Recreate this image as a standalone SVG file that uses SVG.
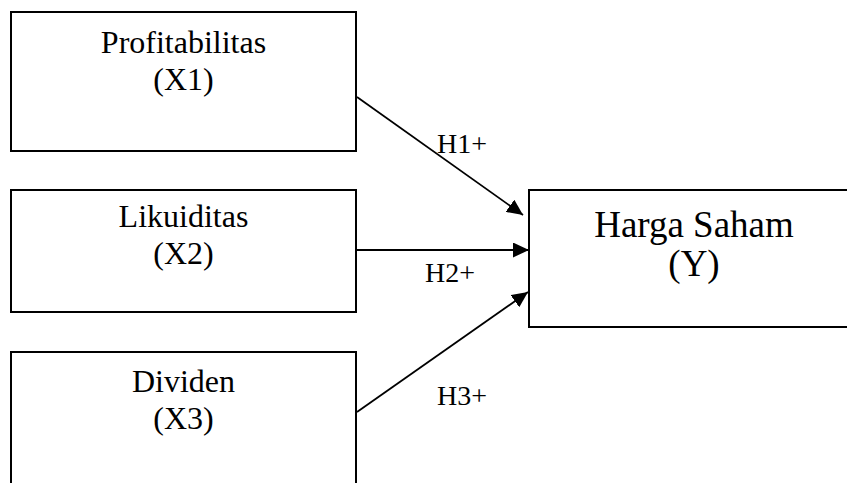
<svg xmlns="http://www.w3.org/2000/svg" width="847" height="483" viewBox="0 0 847 483">
<style>
.box{fill:#fff;stroke:#000;stroke-width:2}
.t{font-family:"Liberation Serif","Times New Roman",serif;font-size:32px;text-anchor:middle;fill:#000}
.ty{font-family:"Liberation Serif","Times New Roman",serif;font-size:37px;text-anchor:middle;fill:#000}
.h{font-family:"Liberation Serif","Times New Roman",serif;font-size:28px;fill:#000}
.c{stroke:#000;stroke-width:1.8;fill:none;marker-end:url(#ah)}
</style>
<defs>
<marker id="ah" markerWidth="17" markerHeight="15" refX="16" refY="7.5" orient="auto" markerUnits="userSpaceOnUse">
<path d="M0,0 L16,7.5 L0,15 Z" fill="#000"/>
</marker>
</defs>
<rect width="847" height="483" fill="#fff"/>
<g id="x1">
<rect class="box" x="11" y="12" width="345" height="139"/>
<text class="t" x="183.5" y="53">Profitabilitas</text>
<text class="t" x="183.5" y="90">(X1)</text>
</g>
<g id="x2">
<rect class="box" x="11" y="190" width="345" height="122"/>
<text class="t" x="183.5" y="227">Likuiditas</text>
<text class="t" x="183.5" y="264">(X2)</text>
</g>
<g id="x3">
<rect class="box" x="11" y="352" width="345" height="150"/>
<text class="t" x="183.5" y="392">Dividen</text>
<text class="t" x="183.5" y="429">(X3)</text>
</g>
<g id="y">
<rect class="box" x="529" y="190" width="330" height="137"/>
<text class="ty" x="694" y="237">Harga Saham</text>
<text class="ty" x="694" y="276">(Y)</text>
</g>
<g id="connectors">
<line class="c" x1="357" y1="97" x2="523" y2="215"/>
<line class="c" x1="357" y1="250" x2="529" y2="250"/>
<line class="c" x1="357" y1="412" x2="528" y2="292"/>
<text class="h" x="437" y="153">H1+</text>
<text class="h" x="425" y="282">H2+</text>
<text class="h" x="437" y="405">H3+</text>
</g>
</svg>
